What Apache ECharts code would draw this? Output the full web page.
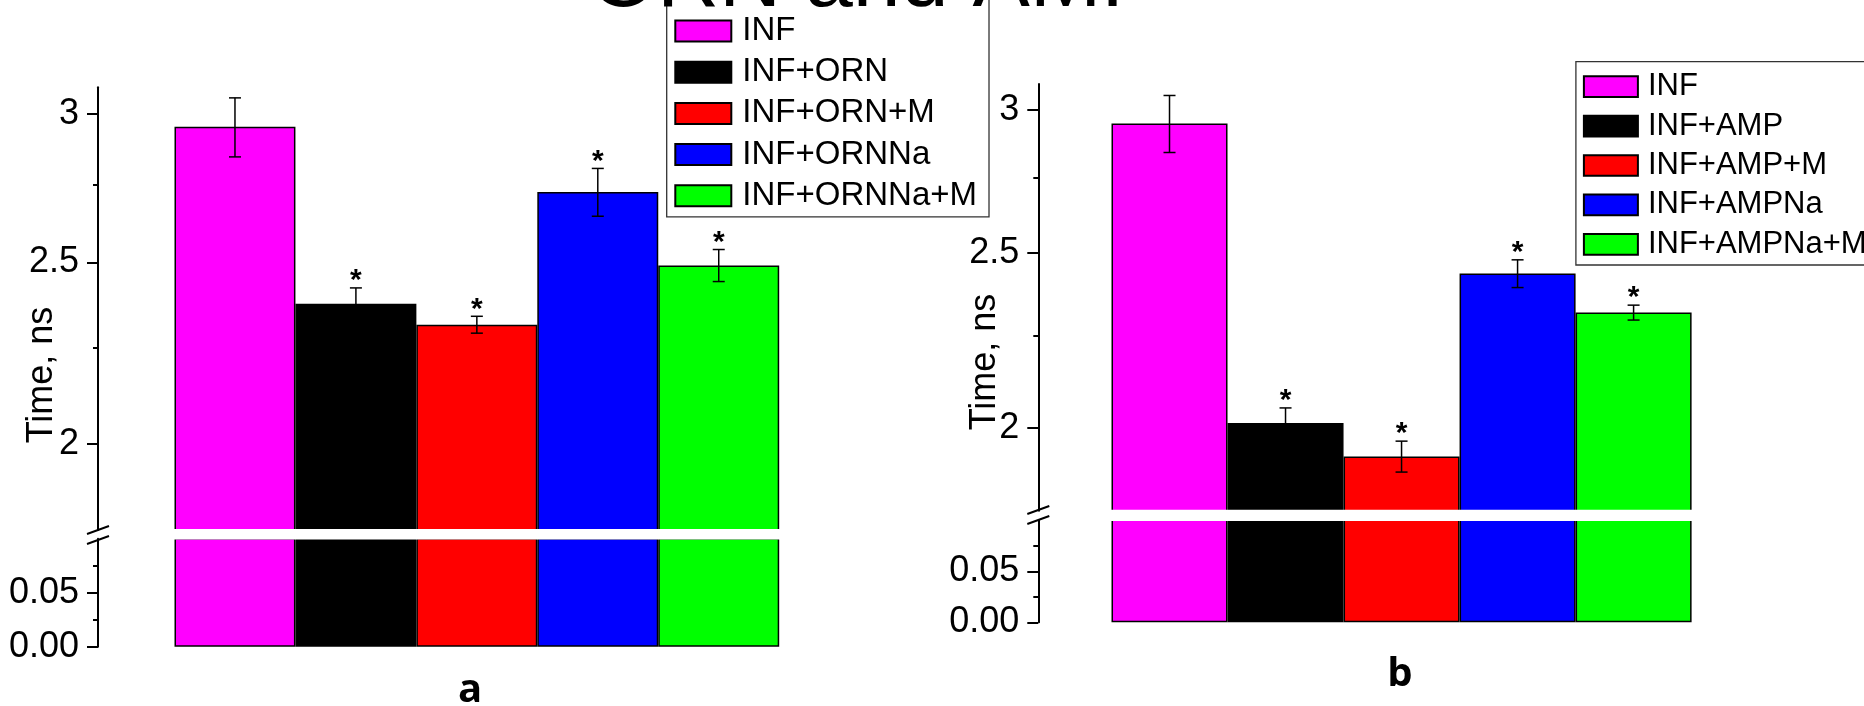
<!DOCTYPE html>
<html>
<head>
<meta charset="utf-8">
<script src="https://cdn.jsdelivr.net/npm/echarts@6/dist/echarts.min.js"></script>
<style>
html, body { margin: 0; padding: 0; background: #fff; }
#chart { width: 1864px; height: 706px; }
</style>
</head>
<body>
<div id="chart"></div>
<script>
// groups and measured values (time, ns)
const namesA = ['INF', 'INF+ORN', 'INF+ORN+M', 'INF+ORNNa', 'INF+ORNNa+M']
const namesB = ['INF', 'INF+AMP', 'INF+AMP+M', 'INF+AMPNa', 'INF+AMPNa+M']
const valuesA = [2.953, 2.376, 2.316, 2.726, 2.491]
const errorsA = [0.107, 0.047, 0.024, 0.080, 0.049]
const starsA = [0, 1, 1, 1, 1]
const valuesB = [2.948, 2.013, 1.929, 2.435, 2.317]
const errorsB = [0.107, 0.039, 0.038, 0.043, 0.022]
const starsB = [0, 1, 1, 1, 1]
// axis ticks
const upperTicks = [2, 2.5, 3]
const upperMinorTicks = [2.25, 2.75]
const lowerTicks = [0, 0.05]
const upperRange = [1.8, 3.1]
const lowerRange = [0, 0.1]

const colors = ['#ff00ff', '#000000', '#ff0000', '#0000ff', '#00ff00']
const FONT = '"Liberation Sans", Arial, sans-serif'

// layout of the two panels (pixels)
const panels = [
    {
        names: namesA, values: valuesA, errors: errorsA, stars: starsA,
        left: 174.5, width: 604.7, axisX: 98,
        upTop: 87.3, upHeight: 442.6, lowTop: 538.7, lowHeight: 108,
        breakY: 535, titleX: 41.7, titleY: 375,
        label: 'a', labelX: 470, labelY: 691
    },
    {
        names: namesB, values: valuesB, errors: errorsB, stars: starsB,
        left: 1111.5, width: 580.1, axisX: 1038.3,
        upTop: 84, upHeight: 426.8, lowTop: 520.3, lowHeight: 102,
        breakY: 515, titleX: 985.5, titleY: 362,
        label: 'b', labelX: 1400, labelY: 675
    }
]

const grid = []
const xAxis = []
const yAxis = []
const series = []
const graphic = []

const axisLineStyle = { color: '#000', width: 2 }
const labelStyle = { color: '#000', fontSize: 36, fontFamily: FONT, margin: 19 }

panels.forEach((p, pi) => {
    const offset = p.left - p.axisX
    grid.push({ left: p.left, width: p.width, top: p.upTop, height: p.upHeight })
    grid.push({ left: p.left, width: p.width, top: p.lowTop, height: p.lowHeight })
    const gU = pi * 2
    const gL = pi * 2 + 1
    ;[gU, gL].forEach(g => {
        xAxis.push({
            type: 'category', gridIndex: g, data: p.names, show: false,
            boundaryGap: true
        })
    })
    const yU = pi * 3
    const yL = pi * 3 + 2
    yAxis.push({
        type: 'log', logBase: 10, gridIndex: gU, min: upperRange[0], max: upperRange[1],
        position: 'left', offset: offset,
        axisLine: { show: true, lineStyle: axisLineStyle },
        axisTick: { show: true, length: 11, lineStyle: axisLineStyle, customValues: upperTicks },
        axisLabel: Object.assign({ customValues: upperTicks, formatter: v => String(v) }, labelStyle),
        splitLine: { show: false }
    })
    // minor ticks of the log part
    yAxis.push({
        type: 'log', logBase: 10, gridIndex: gU, min: upperRange[0], max: upperRange[1],
        position: 'left', offset: offset,
        axisLine: { show: false },
        axisTick: { show: true, length: 5, lineStyle: axisLineStyle, customValues: upperMinorTicks },
        axisLabel: { show: false },
        splitLine: { show: false }
    })
    yAxis.push({
        type: 'value', gridIndex: gL, min: lowerRange[0], max: lowerRange[1], interval: 0.05,
        position: 'left', offset: offset,
        axisLine: { show: true, lineStyle: axisLineStyle },
        axisTick: { show: true, length: 11, lineStyle: axisLineStyle, customValues: lowerTicks },
        minorTick: { show: true, splitNumber: 2, length: 5, lineStyle: axisLineStyle },
        axisLabel: Object.assign({ customValues: lowerTicks, formatter: v => v.toFixed(2) }, labelStyle),
        splitLine: { show: false }
    })

    p.names.forEach((name, k) => {
        const data = p.values.map((v, i) => (i === k ? v : '-'))
        const base = {
            name: name, type: 'bar', barWidth: '100%', barGap: '-100%',
            itemStyle: { color: colors[k], borderColor: '#000', borderWidth: 1.5 },
            clip: true, data: data
        }
        series.push(Object.assign({ xAxisIndex: gU, yAxisIndex: yU }, base))
        series.push(Object.assign({ xAxisIndex: gL, yAxisIndex: yL }, base))
    })

    series.push({
        type: 'custom', xAxisIndex: gU, yAxisIndex: yU, z: 10, clip: false,
        data: p.values.map((v, i) => [i, v, p.errors[i], p.stars[i]]),
        renderItem: (params, api) => {
            const x = api.value(0)
            const v = api.value(1)
            const e = api.value(2)
            const top = api.coord([x, v + e])
            const bot = api.coord([x, v - e])
            const cap = 6
            const st = { stroke: '#000', lineWidth: 1.5 }
            const children = [
                { type: 'line', shape: { x1: top[0], y1: top[1], x2: bot[0], y2: bot[1] }, style: st },
                { type: 'line', shape: { x1: top[0] - cap, y1: top[1], x2: top[0] + cap, y2: top[1] }, style: st },
                { type: 'line', shape: { x1: bot[0] - cap, y1: bot[1], x2: bot[0] + cap, y2: bot[1] }, style: st }
            ]
            if (api.value(3)) {
                children.push({
                    type: 'text', x: top[0], y: top[1] + 8,
                    style: { text: '*', font: 'bold 30px ' + FONT, fill: '#000', align: 'center', verticalAlign: 'bottom' }
                })
            }
            return { type: 'group', children: children }
        }
    })

    // white gap between the two parts of the broken axis
    graphic.push({
        type: 'rect', z: 50,
        shape: { x: p.left - 2, y: p.upTop + p.upHeight - 1, width: p.width + 4, height: p.lowTop - p.upTop - p.upHeight + 1.8 },
        style: { fill: '#fff' }
    })
    // axis break marks
    const bx = p.axisX
    const by = p.breakY
    graphic.push({ type: 'line', z: 60, shape: { x1: bx - 11, y1: by - 1, x2: bx + 11, y2: by - 9 }, style: { stroke: '#000', lineWidth: 2 } })
    graphic.push({ type: 'line', z: 60, shape: { x1: bx - 11, y1: by + 9, x2: bx + 11, y2: by + 1 }, style: { stroke: '#000', lineWidth: 2 } })
    // y axis name
    graphic.push({
        type: 'text', x: p.titleX, y: p.titleY, rotation: Math.PI / 2,
        style: { text: 'Time, ns', font: '36px ' + FONT, fill: '#000', align: 'center', verticalAlign: 'middle' }
    })
    // panel letter
    graphic.push({
        type: 'text', x: p.labelX, y: p.labelY,
        style: { text: p.label, font: 'bold 40px "Open Sans", sans-serif', fill: '#000', align: 'center', verticalAlign: 'middle' }
    })
})

graphic.push({
    type: 'text', x: 590, y: -18, z: 100,
    style: { text: 'ORN and AMP', font: '86px ' + FONT, fill: '#000', align: 'left', verticalAlign: 'middle' }
})

const legendBase = {
    orient: 'vertical', icon: 'rect', selectedMode: false,
    borderColor: '#333', borderWidth: 1.3, backgroundColor: '#fff'
}

const option = {
    animation: false,
    backgroundColor: '#fff',
    grid: grid,
    xAxis: xAxis,
    yAxis: yAxis,
    legend: [
        Object.assign({}, legendBase, {
            data: namesA, left: 666.7, top: -1, itemWidth: 56, itemHeight: 21, itemGap: 5.2,
            padding: [14, 12, 3, 7.6],
            textStyle: { fontFamily: FONT, fontSize: 33, color: '#000', lineHeight: 36, padding: [0, 0, 0, 6] }
        }),
        Object.assign({}, legendBase, {
            data: namesB, left: 1575.9, top: 61.7, itemWidth: 54, itemHeight: 20.7, itemGap: 5.4,
            padding: [8, 13, 3.7, 7],
            textStyle: { fontFamily: FONT, fontSize: 31, color: '#000', lineHeight: 34, padding: [0, 0, 0, 5] }
        })
    ],
    graphic: graphic,
    series: series
}

const chart = echarts.init(document.getElementById('chart'))
chart.setOption(option)
</script>
</body>
</html>
